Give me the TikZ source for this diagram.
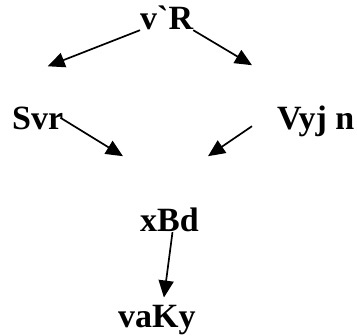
\documentclass[tikz,border=0pt]{standalone}
\usepackage{fontspec}
\newfontfamily\lblfont{Liberation Serif}[Ligatures=TeXOff]
\usetikzlibrary{arrows.meta}

\begin{document}
\begin{tikzpicture}[x=1pt,y=-1pt,
    lbl/.style={inner sep=0pt,anchor=base west,text depth=0pt,font=\lblfont\bfseries\fontsize{34}{36}\selectfont},
    arr/.style={line width=1.7pt,-{Triangle[length=17pt,width=15pt]}}]
    \useasboundingbox (0,0) rectangle (357,336);
    \node[lbl] (vr) at (140,30){v`R};
    \node[lbl] (svr) at (12,130){Svr};
    \node[lbl] (vyj) at (277,130){Vyj n};
    \node[lbl] (xbd) at (140,232){xBd};
    \node[lbl] (vaky) at (118,328){vaKy};
    \draw[arr] (vr.south west) -- ([xshift=10pt,yshift=41pt]svr.north);
    \draw[arr] (vr.south east) -- ([xshift=-25pt,yshift=41pt]vyj.north west);
    \draw[arr] ([xshift=-3pt,yshift=1pt]svr.east) -- ([xshift=-17pt,yshift=52pt]xbd.north west);
    \draw[arr] ([xshift=-25pt,yshift=-8pt]vyj.west) -- ([xshift=9pt,yshift=52pt]xbd.north east);
    \draw[arr] ([xshift=3pt]xbd.south) -- ([xshift=7pt,yshift=8pt]vaky.north);
  \end{tikzpicture}
\end{document}
